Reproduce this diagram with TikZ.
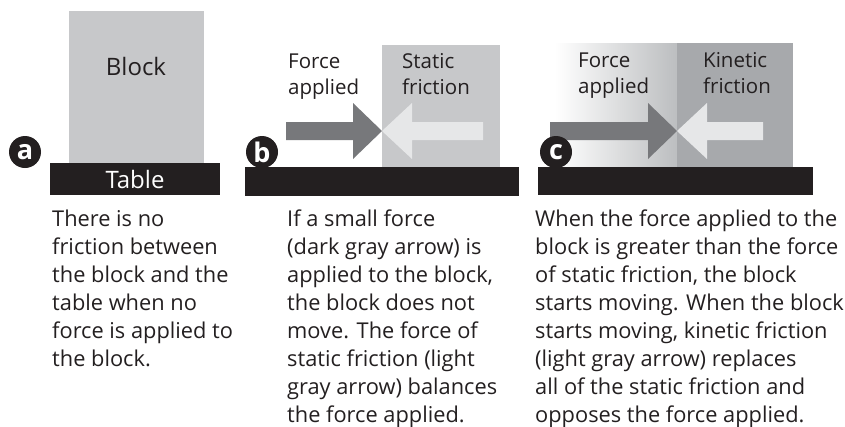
\documentclass[tikz,border=0pt]{standalone}
\usepackage{fontspec}
\setmainfont{Open Sans}
\usetikzlibrary{positioning}
\definecolor{ink}{HTML}{231F20}
\definecolor{blockgray}{HTML}{C7C8CA}
\definecolor{pushgray}{HTML}{77787B}
\definecolor{pullgray}{HTML}{E6E7E8}
\definecolor{midgray}{HTML}{BCBEC0}
\definecolor{slidegray}{HTML}{A7A9AC}
\newcommand{\pushR}[2]{(#1,122) -- ({#2-29},122) -- ({#2-29},103) -- (#2,131) -- ({#2-29},159) -- ({#2-29},140) -- (#1,140) -- cycle}
\newcommand{\pullL}[2]{(#1,131) -- ({#1+30},103) -- ({#1+30},122) -- (#2,122) -- (#2,140) -- ({#1+30},140) -- ({#1+30},159) -- cycle}

\begin{document}
\begin{tikzpicture}[x=1pt,y=-1pt,
  tag/.style={circle,fill=ink,text=white,inner sep=0pt,minimum size=32pt,font=\bfseries\fontsize{27}{27}\selectfont},
  boxtext/.style={anchor=base,inner sep=0pt,text=ink,font=\fontsize{24}{24}\selectfont},
  forcetext/.style={anchor=base west,align=left,inner sep=0pt,text=ink,font=\fontsize{20.5}{26}\selectfont},
  desc/.style={anchor=base west,align=left,inner sep=0pt,text=ink,font=\fontsize{21.8}{28}\selectfont}]
\useasboundingbox (0,0) rectangle (845,426);
% a: block at rest
\fill[blockgray] (69,11) rectangle (204,163);
\fill[ink] (50,163) rectangle (220,195);
\node[boxtext] (blk) at (136,75) {Block};
\node[boxtext,text=white] (tbl) at (135,188) {Table};
\node[tag] (tagA) at (25,152) {a};
\node[desc] (descA) at (52,366) {There is no\\friction between\\the block and the\\table when no\\force is applied to\\the block.};
% b: static friction
\fill[blockgray] (382,45) rectangle (500,167);
\fill[ink] (245,167) rectangle (519,196);
\fill[pushgray] \pushR{286}{382};
\fill[pullgray] \pullL{382}{483};
\node[forcetext] (pushB) at (288,94) {Force\\applied};
\node[forcetext] (pullB) at (402,94) {Static\\friction};
\node[tag] (tagB) at (262,152) {b};
\node[desc] (descB) at (287,422) {If a small force\\(dark gray arrow) is\\applied to the block,\\the block does not\\move. The force of\\static friction (light\\gray arrow) balances\\the force applied.};
% c: kinetic friction
\shade[left color=white,right color=midgray] (555,43) rectangle (677,167);
\fill[slidegray] (677,43) rectangle (793,167);
\fill[ink] (538,167) rectangle (813,195);
\fill[pushgray] \pushR{550}{677};
\fill[pullgray] \pullL{677}{763};
\node[forcetext] (pushC) at (578,93) {Force\\applied};
\node[forcetext] (pullC) at (703,93) {Kinetic\\friction};
\node[tag] (tagC) at (556,152) {c};
\node[desc] (descC) at (535,422) {When the force applied to the\\block is greater than the force\\of static friction, the block\\starts moving. When the block\\starts moving, kinetic friction\\(light gray arrow) replaces\\all of the static friction and\\opposes the force applied.};
\end{tikzpicture}
\end{document}
